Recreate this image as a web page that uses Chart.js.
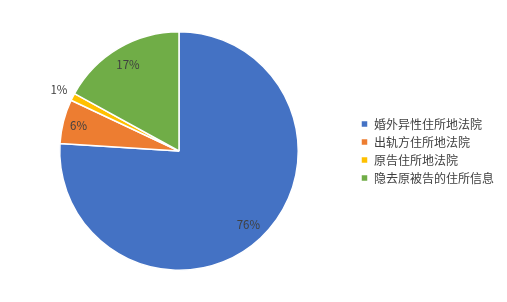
<!DOCTYPE html>
<html>
<head>
<meta charset="utf-8">
<script src="https://cdn.jsdelivr.net/npm/chart.js@4/dist/chart.umd.min.js"></script>
<style>
  html, body { margin: 0; padding: 0; background: #fff; }
  #wrap { width: 507px; height: 302px; position: relative; }
</style>
</head>
<body>
<div id="wrap"><canvas id="chart1"></canvas></div>
<script>
const categories = ['婚外异性住所地法院', '出轨方住所地法院', '原告住所地法院', '隐去原被告的住所信息'];
const shares = [76, 6, 1, 17];
const colors = ['#4472C4', '#ED7D31', '#FFC000', '#70AD47'];
// how far out each label sits, as a fraction of the radius
const labelDist = [0.85, 0.87, 1.13, 0.84];

const pctLabels = {
    id: 'pctLabels',
    afterDatasetsDraw(chart) {
        const ctx = chart.ctx;
        const arcs = chart.getDatasetMeta(0).data;
        ctx.save();
        ctx.font = '11.5px "Noto Sans CJK SC", "DejaVu Sans", sans-serif';
        ctx.fillStyle = '#404040';
        ctx.textAlign = 'center';
        ctx.textBaseline = 'middle';
        arcs.forEach((arc, i) => {
            const mid = (arc.startAngle + arc.endAngle) / 2;
            const r = arc.outerRadius * labelDist[i];
            ctx.fillText(shares[i] + '%', arc.x + Math.cos(mid) * r, arc.y + Math.sin(mid) * r);
        });
        ctx.restore();
    }
};

const chart = new Chart(document.getElementById('chart1'), {
    type: 'pie',
    data: {
        labels: categories,
        datasets: [{
            data: shares,
            backgroundColor: colors,
            borderColor: '#ffffff',
            borderWidth: 1.5
        }]
    },
    options: {
        responsive: true,
        maintainAspectRatio: false,
        animation: false,
        layout: { padding: { top: 31, bottom: 31, left: 3, right: 3 } },
        plugins: {
            legend: {
                position: 'right',
                labels: {
                    boxWidth: 7,
                    boxHeight: 7,
                    padding: 6,
                    color: '#404040',
                    font: { size: 12, family: '"Noto Sans CJK SC", sans-serif' }
                }
            },
            tooltip: { enabled: false }
        }
    },
    plugins: [pctLabels]
});
</script>
</body>
</html>
